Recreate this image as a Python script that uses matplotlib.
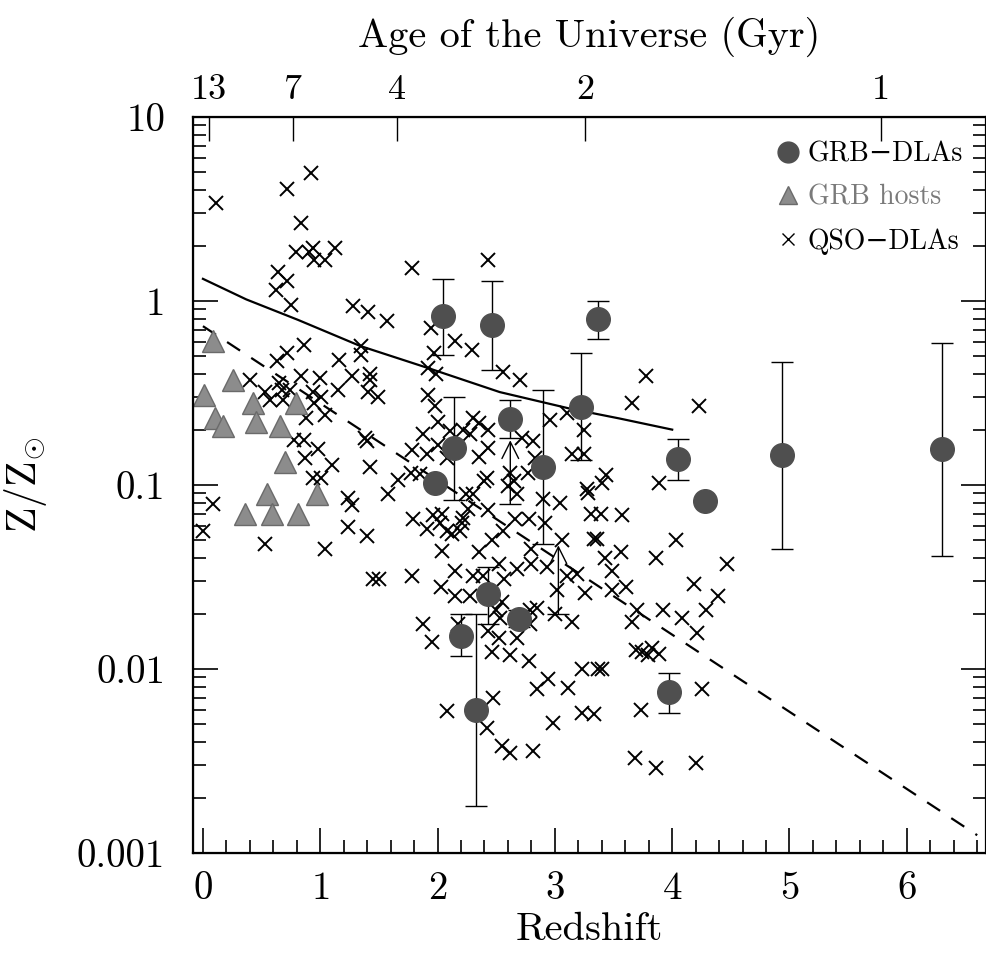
import numpy as np
import matplotlib.pyplot as plt
from matplotlib.lines import Line2D
from matplotlib.ticker import MultipleLocator, LogLocator, NullFormatter, NullLocator

plt.rcParams['font.family'] = ['cmr10', 'DejaVu Serif']
plt.rcParams['mathtext.fontset'] = 'cm'
plt.rcParams['axes.formatter.use_mathtext'] = True

# GRB-DLAs: redshift, Z/Zsun, lower and upper end of error bar
dla_z = np.array([2.05, 2.46, 3.37, 3.22, 2.14, 2.62, 1.98, 2.90, 4.05, 4.28, 4.94, 6.30,
                  2.43, 2.69, 2.20, 2.33, 3.97])
dla_y = np.array([0.83, 0.74, 0.80, 0.265, 0.159, 0.228, 0.103, 0.125, 0.138, 0.082, 0.145, 0.157,
                  0.0256, 0.0188, 0.0152, 0.0060, 0.0075])
dla_lo = np.array([0.51, 0.42, 0.62, 0.137, 0.083, 0.18, 0.103, 0.048, 0.106, 0.082, 0.045, 0.041,
                   0.0175, 0.017, 0.0117, 0.0018, 0.0058])
dla_hi = np.array([1.32, 1.28, 1.00, 0.52, 0.30, 0.29, 0.103, 0.33, 0.178, 0.082, 0.466, 0.59,
                   0.036, 0.021, 0.020, 0.020, 0.0095])

# lower limits (bar at the limit, arrow pointing up)
lim_z = [2.62, 3.03]
lim_lo = [0.079, 0.020]
lim_top = [0.175, 0.047]

# GRB hosts
host_z = [0.09, 0.01, 0.26, 0.10, 0.17, 0.43, 0.45, 0.66, 0.79, 0.70, 0.55, 0.97, 0.36, 0.59, 0.81]
host_y = [0.61, 0.31, 0.37, 0.23, 0.21, 0.28, 0.22, 0.21, 0.28, 0.134, 0.089, 0.089, 0.070, 0.070, 0.070]

# QSO-DLAs
qso_z = [0.11, 0.72, 0.92, 0.84, 0.79, 0.90, 0.94, 0.95, 1.04, 1.13, 0.64, 0.72, 0.62, 0.75, 1.78,
         2.43, 1.28, 1.41, 1.57, 1.94, 2.15, 2.29, 1.97, 0.86, 0.72, 0.63, 1.35, 1.35, 1.16, 1.92,
         1.99, 2.56, 2.70, 0.40, 0.84, 1.00, 1.27, 1.42, 1.42, 1.41, 1.49, 1.15, 0.53, 0.65, 0.67,
         0.74, 0.68, 0.57, 0.94, 1.01, 0.95, 1.04, 0.88, 1.92, 1.98, 2.00, 2.96, 3.10, 3.25, 3.15,
         3.25, 2.30, 2.35, 2.22, 2.43, 2.28, 2.11, 1.88, 1.78, 1.91, 2.00, 2.08, 2.35, 2.43, 2.81,
         2.72, 2.83, 2.77, 0.78, 0.86, 0.98, 0.87, 1.10, 1.38, 1.40, 1.42, 0.94, 1.01, 1.66, 1.77,
         1.85, 1.58, 2.40, 2.42, 2.30, 2.24, 2.62, 2.65, 2.60, 2.68, 2.90, 3.04, 3.27, 3.28, 2.26,
         2.43, 1.24, 1.27, 1.24, 1.40, 1.04, 0.53, 0.09, 0.00, 1.79, 1.91, 1.96, 2.04, 2.02, 2.08,
         2.12, 2.19, 2.22, 2.21, 2.04, 2.35, 2.46, 2.56, 2.66, 2.78, 2.92, 3.06, 3.33, 2.80, 2.80,
         2.93, 3.19, 3.10, 2.15, 2.30, 2.52, 2.68, 1.45, 1.50, 1.78, 2.03, 2.15, 2.28, 2.39, 2.57,
         2.55, 2.50, 2.53, 2.79, 2.85, 2.79, 3.00, 3.15, 3.02, 3.26, 1.88, 1.95, 2.17, 2.43, 2.52,
         2.68, 2.46, 2.62, 2.78, 2.85, 2.94, 3.11, 3.23, 3.37, 2.08, 2.47, 2.42, 2.55, 2.62, 2.81,
         2.98, 3.23, 3.33, 3.49, 3.49, 3.61, 3.70, 3.66, 3.92, 4.08, 4.19, 4.29, 4.39, 4.21, 4.47,
         3.40, 3.69, 3.74, 3.79, 3.83, 3.89, 3.73, 4.25, 3.68, 3.86, 4.20, 3.78, 3.66, 4.23, 3.44,
         3.40, 3.89, 3.31, 3.39, 3.57, 3.36, 3.43, 3.56, 3.86, 4.03]
qso_y = [3.41, 4.06, 4.96, 2.65, 1.85, 1.85, 1.94, 1.67, 1.67, 1.94, 1.44, 1.28, 1.15, 0.95, 1.51,
         1.67, 0.94, 0.87, 0.78, 0.71, 0.61, 0.54, 0.52, 0.58, 0.52, 0.47, 0.57, 0.51, 0.48, 0.43,
         0.40, 0.41, 0.37, 0.37, 0.39, 0.38, 0.39, 0.40, 0.37, 0.32, 0.30, 0.33, 0.32, 0.36, 0.33,
         0.33, 0.29, 0.29, 0.32, 0.30, 0.28, 0.24, 0.23, 0.31, 0.27, 0.22, 0.225, 0.246, 0.20, 0.147,
         0.147, 0.23, 0.217, 0.20, 0.20, 0.19, 0.196, 0.19, 0.155, 0.148, 0.165, 0.14, 0.142, 0.159, 0.174,
         0.18, 0.14, 0.116, 0.176, 0.176, 0.157, 0.14, 0.128, 0.18, 0.173, 0.125, 0.109, 0.109, 0.106, 0.116,
         0.115, 0.089, 0.105, 0.109, 0.089, 0.089, 0.116, 0.105, 0.099, 0.089, 0.084, 0.080, 0.095, 0.090, 0.074,
         0.073, 0.085, 0.078, 0.059, 0.053, 0.045, 0.048, 0.079, 0.056, 0.065, 0.058, 0.069, 0.070, 0.062, 0.056,
         0.054, 0.056, 0.066, 0.062, 0.044, 0.043, 0.050, 0.056, 0.065, 0.065, 0.062, 0.050, 0.051, 0.045, 0.037,
         0.036, 0.033, 0.032, 0.034, 0.032, 0.037, 0.035, 0.031, 0.031, 0.032, 0.028, 0.025, 0.025, 0.032, 0.031,
         0.023, 0.021, 0.019, 0.021, 0.0215, 0.0175, 0.020, 0.018, 0.027, 0.026, 0.0176, 0.014, 0.0176, 0.016, 0.0147,
         0.0147, 0.0123, 0.0119, 0.011, 0.0078, 0.0088, 0.0079, 0.010, 0.010, 0.0059, 0.0070, 0.0048, 0.0038, 0.0035, 0.0036,
         0.0051, 0.0058, 0.0057, 0.034, 0.027, 0.028, 0.021, 0.018, 0.021, 0.019, 0.029, 0.021, 0.025, 0.0157, 0.037,
         0.010, 0.0127, 0.0123, 0.0119, 0.013, 0.012, 0.006, 0.0078, 0.0033, 0.0029, 0.0031, 0.39, 0.28, 0.27, 0.113,
         0.103, 0.103, 0.070, 0.070, 0.069, 0.051, 0.040, 0.043, 0.040, 0.050]

# model curves
solid_z = [0.0, 0.37, 0.81, 1.34, 1.93, 2.53, 3.13, 3.55, 4.0]
solid_y = [1.32, 1.02, 0.79, 0.57, 0.43, 0.32, 0.26, 0.23, 0.20]
dash_z = [0.0, 6.6]
dash_y = [0.73, 0.00125]

# top axis: age of the universe (Gyr), flat LCDM H0=71, Om=0.27
ages = [13, 7, 4, 2, 1]
H0 = 71 / 977.8
Om, OL = 0.27, 0.73
zgrid = np.linspace(0, 10, 5001)
age_grid = 2 / (3 * H0 * np.sqrt(OL)) * np.arcsinh(np.sqrt(OL / Om) * (1 + zgrid) ** -1.5)
age_z = np.interp(ages, age_grid[::-1], zgrid[::-1])

fig = plt.figure(figsize=(9.86, 9.56), dpi=100)
ax = fig.add_axes([0.1957, 0.1077, 0.8043, 0.7699])

ax.plot(solid_z, solid_y, 'k-', lw=1.6)
ax.plot(dash_z, dash_y, 'k--', lw=1.6, dashes=(7, 6))
ax.plot(qso_z, qso_y, 'x', color='k', ms=9.5, mew=1.4, ls='none')
ax.plot(host_z, host_y, '^', color='#8c8c8c', mec='#6a6a6a', ms=15.5, ls='none')
ax.errorbar(dla_z, dla_y, yerr=[dla_y - dla_lo, dla_hi - dla_y], fmt='o', color='#4f4f4f', ms=17,
            ecolor='k', elinewidth=1, capsize=8, capthick=1)
for z, y0, y1 in zip(lim_z, lim_lo, lim_top):
    ax.annotate('', xy=(z, y1), xytext=(z, y0),
                arrowprops=dict(arrowstyle='->', lw=1, color='k', shrinkA=0, shrinkB=0,
                                mutation_scale=30))
ax.plot(lim_z, lim_lo, '_', color='k', ms=16, mew=1)

ax.set_yscale('log')
ax.set_ylim(1e-3, 10)
ax.set_xlim(-0.085, 6.675)

ax.xaxis.set_major_locator(MultipleLocator(1))
ax.xaxis.set_minor_locator(MultipleLocator(0.2))
ax.set_yticks([0.001, 0.01, 0.1, 1, 10])
ax.set_yticklabels(['0.001', '0.01', '0.1', '1', '10'])
ax.yaxis.set_minor_locator(LogLocator(base=10, subs=range(2, 10)))
ax.yaxis.set_minor_formatter(NullFormatter())
ax.tick_params(which='both', direction='in', top=False, right=True, width=1.2)
ax.tick_params(which='major', length=18, labelsize=28)
ax.tick_params(axis='x', which='major', pad=13)
ax.tick_params(axis='y', which='major', pad=20)
ax.tick_params(which='minor', length=9.5)
for s in ax.spines.values():
    s.set_linewidth(1.6)

ax.set_xlabel('Redshift', fontsize=29, labelpad=4)
ax.set_ylabel(r'$\mathrm{Z/Z_{\odot}}$', fontsize=30, labelpad=20)

ax2 = ax.twiny()
ax2.set_xlim(ax.get_xlim())
ax2.set_xticks(age_z)
ax2.set_xticklabels([str(a) for a in ages])
ax2.xaxis.set_minor_locator(NullLocator())
ax2.tick_params(axis='x', direction='in', length=17, width=1.0, labelsize=26, pad=8)
ax2.set_xlabel('Age of the Universe (Gyr)', fontsize=29, labelpad=20)

handles = [
    Line2D([], [], marker='o', color='#4f4f4f', ms=15, ls='none'),
    Line2D([], [], marker='^', color='#8c8c8c', mec='#6a6a6a', ms=13, ls='none'),
    Line2D([], [], marker='x', color='k', ms=8, mew=1, ls='none'),
]
leg = ax.legend(handles, ['GRB\u2212DLAs', 'GRB hosts', 'QSO\u2212DLAs'], loc='upper right',
                bbox_to_anchor=(1 - 23 / 793, 1 - 24 / 736), borderaxespad=0, borderpad=0,
                frameon=False, fontsize=20, handlelength=0.9, handletextpad=0.25, labelspacing=0.62)
leg.get_texts()[1].set_color('#7a7a7a')

fig.savefig('out.png', dpi=100)
